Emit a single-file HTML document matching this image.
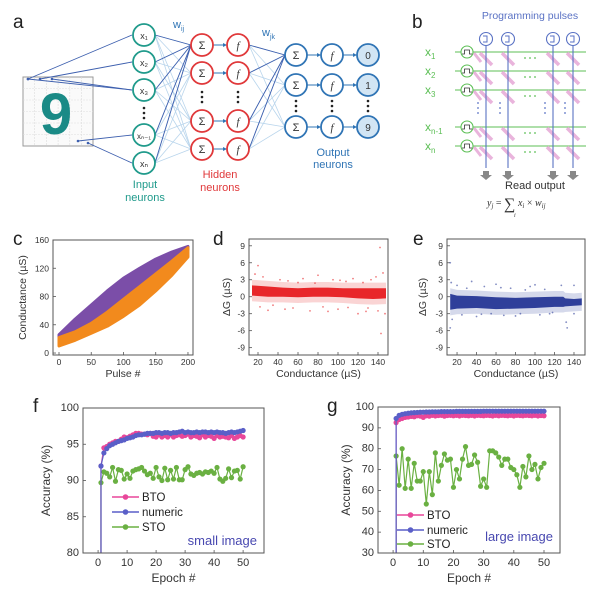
<!DOCTYPE html>
<html><head><meta charset="utf-8"><style>
html,body{margin:0;padding:0;background:#fff;width:600px;height:590px;overflow:hidden;}
svg{display:block;font-family:"Liberation Sans",sans-serif;}
</style></head><body>
<svg id="fig" width="600" height="590" viewBox="0 0 600 590" xmlns="http://www.w3.org/2000/svg">
<rect width="600" height="590" fill="#fff"/>
<g id="pa"></g>
<g id="pb"></g>
<g id="pc"></g>
<g id="pd"></g>
<g id="pe"></g>
<g id="pf"></g>
<g id="pg"></g>
</svg>
<script>
// ---------- chart data ----------
const cPulse = [0,25,50,75,100,125,150,175,200];
const cPurpleTop = [26,48,68,88,106,120,133,143,151];
const cPurpleBot = [20,28,40,56,74,92,110,128,146];
const cOrangeTop = [22,30,42,58,76,94,112,130,149];
const cOrangeBot = [10,18,28,38,52,68,88,110,136];

const dBandX = [14,30,45,60,75,90,105,120,135,148];
const dBandTop = [2.0,1.8,1.6,1.5,1.6,1.6,1.5,1.5,1.5,1.5];
const dBandBot = [0.2,0.0,0.0,-0.1,0.0,0.0,-0.1,-0.3,-0.4,-0.3];
const dOutX = [20,17,25,35,42,50,55,65,72,80,85,95,100,108,115,120,125,130,138,142,143,145,147,30,60,90,110,140,22,47,77,102,128,133];
const dOutY = [5.5,4,3.5,-1.5,3,2.8,-2,3.2,-2.5,3.8,-1.8,3,-2.2,2.7,3.2,-3,2.5,-2,3.5,8.7,-6.5,4.2,-3,-2.4,2.5,-2.6,-1.9,-2.5,-1.8,-2.2,2.4,2.9,-2.6,3.0];

const eBandX = [13,20,40,60,80,100,120,129,131,140,148];
const eBandTop = [0.5,0.2,0.1,-0.1,-0.2,-0.1,0,0,-0.3,-0.4,-0.3];
const eBandBot = [-2.3,-2.1,-2,-2.2,-2.1,-2,-1.8,-1.8,-1.7,-1.6,-1.5];
const eOutX = [13,14,13,15,20,30,35,40,48,55,60,68,75,85,95,100,105,110,118,127,132,133,140,140,90,25,45,65,80,115];
const eOutY = [6,2.5,-5.5,-4,2,1.5,2.7,-3.5,1.8,-3,2.2,-3.3,1.5,-3,1.8,2.1,-3.2,1.3,-2.8,2,-4.5,-5.5,-3,2,1.2,-3.2,-3.1,1.6,-3.4,-3.0];

const epochs = [1,1,2,3,4,5,6,7,8,9,10,11,12,13,14,15,16,17,18,19,20,21,22,23,24,25,26,27,28,29,30,31,32,33,34,35,36,37,38,39,40,41,42,43,44,45,46,47,48,49,50];
const fBTO = [10,92,94.5,94.7,95,95.2,95.4,95.4,95.7,96,95.9,96.1,96.3,96.5,96.5,96.4,96.4,96.3,96.5,96.1,96.0,96.3,96.0,96.2,96.0,96.3,96.0,96.2,96.3,96.1,96.2,96.4,96.0,96.2,96.1,95.9,96.3,96.0,96.2,96.1,95.8,96.2,96.0,96.1,96.0,95.9,96.2,95.8,96.0,96.2,96.0];
const fNum = [10,92,93.8,94.4,94.8,95.0,95.2,95.4,95.5,95.6,95.8,95.9,96.0,96.2,96.3,96.3,96.4,96.5,96.5,96.5,96.6,96.6,96.5,96.6,96.6,96.5,96.6,96.6,96.7,96.8,96.6,96.7,96.6,96.6,96.7,96.6,96.7,96.7,96.6,96.7,96.6,96.7,96.6,96.6,96.5,96.6,96.7,96.6,96.7,96.8,96.9];
const fSTO = [10,89.7,91.2,91.0,90.5,91.8,89.9,91.5,91.4,90.2,90.9,90.3,91.3,91.5,91.6,91.8,91.3,90.8,91.0,90.3,91.8,90.5,90.0,91.7,90.1,91.4,90.2,91.8,90.1,90.1,91.5,91.9,90.9,90.7,91.0,91.1,90.9,91.2,91.1,91.3,91.0,91.8,90.2,89.9,90.3,91.6,90.4,91.3,91.4,90.2,91.9];
const gBTO = [10,92.5,94,94.5,95,95.2,95.5,95.3,95.8,95.6,95,95.8,95.6,96,95.7,95.9,96,95.6,95.9,96,95.8,96,95.7,96,95.9,95.8,96,95.7,96,95.9,95.8,96,95.9,95.7,96,95.8,96,95.9,95.8,96,95.7,96,95.9,95.8,96,95.9,95.8,96,95.7,95.9,95.8];
const gNum = [10,94.5,96,96.5,96.8,97,97.2,97.3,97.4,97.5,97.5,97.6,97.6,97.7,97.7,97.7,97.8,97.8,97.8,97.8,97.8,97.9,97.9,97.9,97.9,97.9,97.9,97.9,97.9,97.9,98,98,98,98,98,98,98,98,98,98,98,98,98,98,98,98,98,98,98,98,98];
const gSTO = [10,76.5,62.5,80,61,75,61,73,64.5,64.5,69,53.5,69,58,78,64.5,72,77.5,74.5,75,61.5,70,65.5,75,81,72,72.5,77,73.5,62,65.5,61.5,79,79,78,76,72,75,75,71,70,67.5,61.5,71.5,66.5,76.5,70,72.5,65.5,71,73];

const cXTicks = [0,50,100,150,200];
const cYTicks = [0,40,80,120,160];
const dXTicks = [20,40,60,80,100,120,140];
const dYTicks = [-9,-6,-3,0,3,6,9];
const fXTicks = [0,10,20,30,40,50];
const fYTicks = [80,85,90,95,100];
const gYTicks = [30,40,50,60,70,80,90,100];

const NS = "http://www.w3.org/2000/svg";
function mk(parent, tag, attrs, text){
  const e = document.createElementNS(NS, tag);
  for (const k in attrs) e.setAttribute(k, attrs[k]);
  if (text !== undefined) e.textContent = text;
  parent.appendChild(e);
  return e;
}
function scale(d0,d1,r0,r1){ return v => r0 + (v-d0)*(r1-r0)/(d1-d0); }

function frame(g, ax, xt, yt, xTitle, yTitle, ytx, opts){
  const {x0,x1,y0,y1,X,Y} = ax;
  const clipId = 'clip'+Math.round(x0)+Math.round(y0);
  const cp = mk(g,'clipPath',{id:clipId});
  mk(cp,'rect',{x:x0,y:y0,width:x1-x0,height:y1-y0});
  ax.clip = 'url(#'+clipId+')';
  xt.forEach(t=>{
    const x = X(t);
    const tk = mk(g,'line',{x1:x,x2:x,y1:y1,y2:y1-3,stroke:'#555','stroke-width':0.8});
    
    
    const lb = mk(g,'text',{x:x,y:y1+(opts.xlo||10),'font-size':opts.tfs||9,'text-anchor':'middle',fill:'#333'},t);
    
    
  });
  yt.forEach(t=>{
    const y = Y(t);
    const tk = mk(g,'line',{x1:x0,x2:x0+3,y1:y,y2:y,stroke:'#555','stroke-width':0.8});
    
    
    const lb = mk(g,'text',{x:x0-(opts.ylo||4),y:y+3,'font-size':opts.tfs||9,'text-anchor':'end',fill:'#333'},t);
    
    
  });
  const xt_ = mk(g,'text',{x:(x0+x1)/2,y:y1+(opts.xto||22),'font-size':opts.afs||11,'text-anchor':'middle',fill:'#333'},xTitle);
  
  
  const yc = (y0+y1)/2;
  const yt_ = mk(g,'text',{x:ytx,y:yc,'font-size':opts.afs||11,'text-anchor':'middle',fill:'#333',transform:'rotate(-90 '+ytx+' '+yc+')'},yTitle);
  
  
}
function box(g, ax){
  const b = mk(g,'rect',{x:ax.x0,y:ax.y0,width:ax.x1-ax.x0,height:ax.y1-ax.y0,fill:'none',stroke:'#555','stroke-width':1});
  
  
}
function letter(g,x,y,t){
  const l = mk(g,'text',{x:x,y:y,'font-size':19,fill:'#222'},t);
  
  
}
function mkAx(x0,x1,y0,y1,xmin,xmax,ymin,ymax){
  return {x0,x1,y0,y1,ymin,ymax,X:scale(xmin,xmax,x0,x1),Y:scale(ymin,ymax,y1,y0)};
}

// ---------- panel a ----------
(function(){
  const g = document.getElementById('pa');
  letter(g,13,28,'a');
  const teal='#1f9a8b', red='#e0383a', blue='#2f74b5', dark='#3d5fae', light='#b9d5ec';
  const inY=[35,62,90,135,163], inX=144;
  const hY=[45,73,121,149], hSX=202, hFX=238;
  const oY=[55,85,127], oSX=296, oFX=332, oOX=368;
  const img = mk(g,'g',{});
  
  
  mk(img,'rect',{x:23,y:77,width:70,height:69,fill:'#fafafa',stroke:'#999','stroke-width':1});
  for(let i=1;i<6;i++){ mk(img,'line',{x1:23+i*11.7,x2:23+i*11.7,y1:77,y2:146,stroke:'#ddd','stroke-width':0.6,'stroke-dasharray':'2 1'});
    mk(img,'line',{x1:23,x2:93,y1:77+i*11.5,y2:77+i*11.5,stroke:'#ddd','stroke-width':0.6,'stroke-dasharray':'2 1'}); }
  mk(img,'text',{x:56,y:134,'font-size':58,'font-weight':'bold','text-anchor':'middle',fill:'#1a8a86'},'9');
  inY.forEach(a=>hY.forEach(b=>mk(g,'line',{x1:inX+11,y1:a,x2:hSX-11,y2:b,stroke:light,'stroke-width':0.8})));
  hY.forEach(a=>oY.forEach(b=>mk(g,'line',{x1:hFX+11,y1:a,x2:oSX-11,y2:b,stroke:light,'stroke-width':0.8})));
  inY.forEach(a=>mk(g,'line',{x1:inX+11,y1:a,x2:hSX-11,y2:hY[0],stroke:dark,'stroke-width':0.9}));
  hY.forEach(a=>mk(g,'line',{x1:hFX+11,y1:a,x2:oSX-11,y2:oY[0],stroke:dark,'stroke-width':0.9}));
  const src=[[28,79],[40,79],[52,79],[28,79],[78,141],[88,143]];
  src.forEach((s,i)=>{ mk(g,'line',{x1:s[0],y1:s[1],x2:inX-12,y2:inY[i<4?(i===3?2:i):(i===4?3:4)],stroke:dark,'stroke-width':0.9});
    mk(g,'circle',{cx:s[0],cy:s[1],r:1.3,fill:dark}); });
  function node(x,y,col,txt,fill,fs,it){
    const c=mk(g,'circle',{cx:x,cy:y,r:11,fill:fill||'#fff',stroke:col,'stroke-width':1.8});
    
    
    mk(g,'text',{x:x,y:y+4,'font-size':fs||10,'text-anchor':'middle',fill:'#333','font-style':it?'italic':'normal','font-family':it?'Liberation Serif,serif':'Liberation Sans,sans-serif'},txt);
  }
  function dots(x,y){ for(let i=-1;i<=1;i++) mk(g,'circle',{cx:x,cy:y+i*5,r:1.3,fill:'#222'}); }
  function arrow(x1,x2,y,col){ mk(g,'line',{x1:x1,x2:x2-3,y1:y,y2:y,stroke:col,'stroke-width':1}); mk(g,'path',{d:`M${x2} ${y} l-4 -2 v4 z`,fill:col}); }
  const labs=['x₁','x₂','x₃'];
  [0,1,2].forEach(i=>node(inX,inY[i],teal,labs[i],null,9));
  node(inX,inY[3],teal,'xₙ₋₁',null,8); node(inX,inY[4],teal,'xₙ',null,9);
  dots(inX,113);
  hY.forEach(y=>{ arrow(hSX+11,hFX-11,y,blue); node(hSX,y,red,'Σ',null,11); node(hFX,y,red,'f',null,11,true); });
  dots(hSX,97); dots(hFX,97);
  oY.forEach((y,i)=>{ arrow(oSX+11,oFX-11,y,blue); arrow(oFX+11,oOX-11,y,blue); node(oSX,y,blue,'Σ',null,11); node(oFX,y,blue,'f',null,11,true); node(oOX,y,blue,['0','1','9'][i],'#d2e5f4',10); });
  dots(oSX,106); dots(oFX,106); dots(oOX,106);
  mk(g,'text',{x:173,y:28,'font-size':11,fill:blue},'w');
  mk(g,'text',{x:181,y:31,'font-size':7,fill:blue},'ij');
  mk(g,'text',{x:262,y:36,'font-size':11,fill:blue},'w');
  mk(g,'text',{x:270,y:39,'font-size':7,fill:blue},'jk');
  [['Input',188],['neurons',201]].forEach(t=>mk(g,'text',{x:145,y:t[1],'font-size':11,'text-anchor':'middle',fill:teal},t[0]));
  [['Hidden',178],['neurons',191]].forEach(t=>mk(g,'text',{x:220,y:t[1],'font-size':11,'text-anchor':'middle',fill:red},t[0]));
  [['Output',156],['neurons',168]].forEach(t=>mk(g,'text',{x:333,y:t[1],'font-size':11,'text-anchor':'middle',fill:blue},t[0]));
})();

// ---------- panel b ----------
(function(){
  const g = document.getElementById('pb');
  letter(g,412,28,'b');
  const green='#5cbf55', vb='#5a72c4', pink='#e9b4dc';
  const cols=[486,508,553,573], rows=[52,71,90,127,146];
  mk(g,'text',{x:530,y:19,'font-size':10.5,'text-anchor':'middle',fill:vb},'Programming pulses');
  rows.forEach(y=>mk(g,'line',{x1:455,x2:586,y1:y,y2:y,stroke:green,'stroke-width':1.1}));
  rows.forEach(y=>cols.forEach(x=>mk(g,'line',{x1:x-6,y1:y+1,x2:x+6,y2:y+13,stroke:pink,'stroke-width':3.5})));
  rows.forEach(y=>mk(g,'line',{x1:474,y1:y+1,x2:481,y2:y+10,stroke:pink,'stroke-width':3}));
  cols.forEach(x=>{ mk(g,'line',{x1:x,x2:x,y1:46,y2:168,stroke:vb,'stroke-width':1.1});
    mk(g,'circle',{cx:x,cy:39,r:6.5,fill:'#fff',stroke:vb,'stroke-width':1.1});
    mk(g,'path',{d:`M${x-3} ${36} h4 v6 h-4`,fill:'none',stroke:vb,'stroke-width':1});
    mk(g,'path',{d:`M${x-3} 171 h6 v4 h3 l-6 5 l-6 -5 h3 z`,fill:'#888'});
    [103,108,113].forEach(y=>mk(g,'circle',{cx:x-8,cy:y,r:0.9,fill:vb}));
  });
  const subs=['1','2','3','n-1','n'];
  rows.forEach((y,i)=>{
    const c=mk(g,'circle',{cx:467,cy:y,r:6,fill:'#fff',stroke:green,'stroke-width':1.1});
    
    
    mk(g,'path',{d:`M${462} ${y+2} h2.5 v-4 h5 v4 h2.5`,fill:'none',stroke:'#333','stroke-width':0.8});
    const t=mk(g,'text',{x:425,y:y+4,'font-size':12,fill:green},'x');
    mk(t,'tspan',{dy:3,'font-size':8},subs[i]);
    [525,530,535].forEach(x=>mk(g,'circle',{cx:x,cy:y+6,r:0.9,fill:green}));
  });
  mk(g,'text',{x:535,y:189,'font-size':11,'text-anchor':'middle',fill:'#333'},'Read output');
  const f=mk(g,'text',{x:487,y:206,'font-size':10,fill:'#333','font-family':'Liberation Serif,serif','font-style':'italic'});
  f.innerHTML='y<tspan font-size="7" dy="2">j</tspan><tspan dy="-2" font-style="normal"> = </tspan><tspan font-size="16" font-style="normal" dy="3">∑</tspan><tspan dy="-3"> x</tspan><tspan font-size="7" dy="2">i</tspan><tspan dy="-2" font-style="normal"> × </tspan>w<tspan font-size="7" dy="2">ij</tspan>';
  mk(g,'text',{x:514,y:217,'font-size':6,fill:'#333','font-style':'italic','font-family':'Liberation Serif,serif'},'i');
})();

// ---------- panel c ----------
(function(){
  const g = document.getElementById('pc');
  letter(g,13,245,'c');
  const ax = mkAx(53,193,240,355,-9.3,207.8,-2.8,160);
  frame(g,ax,cXTicks,cYTicks,'Pulse #','Conductance (µS)',26,{xlo:10,xto:22,tfs:8.5,afs:10.5});
  function band(top,bot,col,name){
    let d='M'+cPulse.map((p,i)=>ax.X(p)+' '+ax.Y(top[i])).join(' L');
    d+=' L'+cPulse.map((p,i)=>ax.X(p)+' '+ax.Y(bot[i])).reverse().join(' L')+' Z';
    const p=mk(g,'path',{d:d,fill:col,stroke:col,'stroke-width':3,'stroke-linejoin':'round'});
    
    
  }
  band(cPurpleTop,cPurpleBot,'#7b4ea8','potentiation-band');
  band(cOrangeTop,cOrangeBot,'#f28a1d','depression-band');
  box(g,ax);
})();

// ---------- panels d / e ----------
function scatterPanel(id,lx,letterT,ax0,bx,bt,bb,ox,oy,col,ytx){
  const g=document.getElementById(id);
  letter(g,lx,245,letterT);
  const ax=ax0;
  frame(g,ax,dXTicks,dYTicks,'Conductance (µS)','ΔG (µS)',ytx,{xlo:10,xto:22,tfs:8.5,afs:10.5});
  const cg=mk(g,'g',{'clip-path':ax.clip});
  let d='M'+bx.map((x,i)=>ax.X(x)+' '+ax.Y(bt[i]+1.0)).join(' L')+' L'+bx.map((x,i)=>ax.X(x)+' '+ax.Y(bb[i]-1.0)).reverse().join(' L')+' Z';
  const h=mk(cg,'path',{d:d,fill:col,opacity:0.2});
  
  
  d='M'+bx.map((x,i)=>ax.X(x)+' '+ax.Y(bt[i])).join(' L')+' L'+bx.map((x,i)=>ax.X(x)+' '+ax.Y(bb[i])).reverse().join(' L')+' Z';
  const b=mk(cg,'path',{d:d,fill:col});
  
  
  ox.forEach((x,i)=>{
    const c=mk(cg,'circle',{cx:ax.X(x),cy:ax.Y(oy[i]),r:0.9,fill:col,opacity:0.6});
    
    
  });
  box(g,ax);
}
scatterPanel('pd',213,'d',mkAx(249,388,239,355,11,150,-10.3,10.2),dBandX,dBandTop,dBandBot,dOutX,dOutY,'#e8262a',230);
scatterPanel('pe',413,'e',mkAx(447,585,239,355,9.7,151.3,-10.3,10.2),eBandX,eBandTop,eBandBot,eOutX,eOutY,'#2f3f9a',426);

// ---------- panels f / g ----------
function accPanel(id,lx,lt,ax,yt,bto,num,sto,ytx,leg,tag){
  const g=document.getElementById(id);
  letter(g,lx,412,lt);
  frame(g,ax,fXTicks,yt,'Epoch #','Accuracy (%)',ytx,{xlo:13,xto:29,tfs:11,afs:12,ylo:4});
  const cg=mk(g,'g',{'clip-path':ax.clip});
  const lo = ax.ymin - (ax.ymax-ax.ymin)*0.03;
  const Yc = v => ax.Y(Math.max(v, lo));
  const series=[[sto,'#6ab042','series-sto'],[bto,'#e8479a','series-bto'],[num,'#5a5fc8','series-numeric']];
  series.forEach(s=>{
    const pl=mk(cg,'polyline',{points:epochs.map((e,i)=>ax.X(e)+','+Yc(s[0][i])).join(' '),fill:'none',stroke:s[1],'stroke-width':1.2});
    
    
    epochs.forEach((e,i)=>{
      if (s[0][i] < ax.ymin) return;
      const c=mk(cg,'circle',{cx:ax.X(e),cy:Yc(s[0][i]),r:2.6,fill:s[1]});
      
      
    });
  });
  box(g,ax);
  const names=['BTO','numeric','STO'], cols=['#e8479a','#5a5fc8','#6ab042'];
  names.forEach((n,i)=>{
    const y=leg.y[i];
    const le=mk(g,'g',{});
    
    
    mk(le,'line',{x1:leg.x,x2:leg.x+27,y1:y,y2:y,stroke:cols[i],'stroke-width':1.5});
    mk(le,'circle',{cx:leg.x+13.5,cy:y,r:2.8,fill:cols[i]});
    mk(le,'text',{x:leg.x+30,y:y+4,'font-size':11.5,fill:'#222'},n);
  });
  const t=mk(g,'text',{x:leg.tx,y:leg.ty,'font-size':13,fill:'#4848b0','text-anchor':'end'},tag);
  
  
}
accPanel('pf',33,'f',mkAx(83,264,408,553,-5.2,57.2,80,100),fYTicks,fBTO,fNum,fSTO,50,{x:112,y:[497,512,527],tx:257,ty:545},'small image');
accPanel('pg',327,'g',mkAx(378,560,407,553,-5,55.3,30,100),gYTicks,gBTO,gNum,gSTO,350,{x:397,y:[515,530,544],tx:553,ty:541},'large image');
</script>
</body></html>
